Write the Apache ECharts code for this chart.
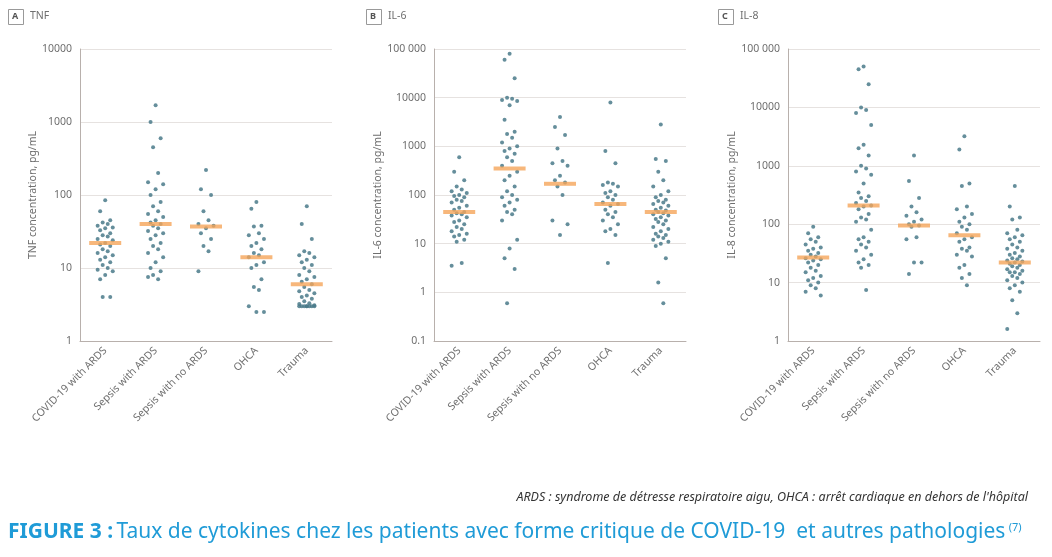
<!DOCTYPE html>
<html><head><meta charset="utf-8">
<script src="https://cdn.jsdelivr.net/npm/echarts@6/dist/echarts.min.js"></script>
<style>html,body{margin:0;padding:0;background:#fff;}#c{width:1052px;height:557px;}</style>
</head><body><div id="c"></div>
<script>
const categories = ['COVID-19 with ARDS','Sepsis with ARDS','Sepsis with no ARDS','OHCA','Trauma'];
const tnfValues = [
 [85,60,45,42,40,38,36,35,33,30,28,27,25,24,22,21,20,18,17,16,15,14,13,12,11,10,9.5,9,8,7,4,4],
 [1700,1000,600,450,200,150,140,120,100,80,70,60,55,50,45,42,40,38,35,32,30,28,25,22,20,18,16,14,12,10,9,8,7,7.5],
 [220,120,100,60,45,40,38,35,30,25,20,17,9],
 [80,65,38,37,30,28,25,22,20,18,16,15,14,12,11,10,7,5.5,5,3,2.5,2.5],
 [70,40,25,17,16,15,14,13,12,11,10,9,8,7.5,7,6.5,6,5.5,5,4.8,4.5,4.2,4,3.8,3.5,3.3,3.2,3.1,3,3,3,3,3,3,3,3]
];
const tnfMedians = [22,40,37,14,6];
const il6Values = [
 [600,300,200,150,130,120,110,100,95,90,80,75,70,60,55,50,45,42,40,38,35,30,28,25,22,20,18,16,15,14,12,11,4,3.5],
 [80000,60000,25000,10000,9500,9000,8500,7000,3500,2000,1800,1500,1200,1000,900,800,700,600,500,400,300,250,200,150,120,100,90,80,70,60,50,45,40,30,12,8,5,3,0.6],
 [4000,2500,1700,900,500,450,400,250,200,180,150,100,30,25,15],
 [8000,800,450,180,170,160,150,120,110,100,90,80,70,65,60,50,45,40,35,30,25,20,18,15,4],
 [2800,550,500,300,200,150,120,100,90,80,75,70,65,60,55,50,48,45,42,40,38,35,32,30,28,25,22,20,18,16,15,14,13,12,11,10,9,5,1.6,0.6]
];
const il6Medians = [45,350,170,65,45];
const il8Values = [
 [90,70,60,55,50,45,40,38,35,32,30,28,26,25,24,22,20,18,16,15,13,12,11,10,9,8,7,6],
 [50000,45000,25000,10000,9000,8000,5000,2300,2000,1500,1000,900,800,700,500,350,300,280,250,230,210,200,180,150,130,120,110,80,60,55,50,45,40,35,30,25,22,20,18,7.5],
 [1500,550,280,200,160,140,120,110,100,95,90,60,55,22,22,14],
 [3200,1900,500,450,200,180,150,130,110,100,90,80,70,60,55,50,40,38,35,30,28,20,18,14,12,9],
 [450,200,130,120,80,70,65,60,55,50,45,40,38,35,32,30,28,26,25,24,23,22,21,20,19,18,17,16,15,15,14,13,12,11,10,9,8,7,5,3,1.6]
];
const il8Medians = [27,210,95,65,22];
const jitterPattern = [0,-2,2,-1,1,-3,3];
const panels = [
 {letter:'A', name:'TNF', yName:'TNF concentration, pg/mL', values:tnfValues, medians:tnfMedians, min:1, max:10000, left:80, x:8},
 {letter:'B', name:'IL-6', yName:'IL-6 concentration, pg/mL', values:il6Values, medians:il6Medians, min:0.1, max:100000, left:434, x:366},
 {letter:'C', name:'IL-8', yName:'IL-8 concentration, pg/mL', values:il8Values, medians:il8Medians, min:1, max:100000, left:788, x:718}
];
const grid=[],xAxis=[],yAxis=[],series=[],graphic=[];
const fmt=v=>{let s=String(v);return v>=100000? s.slice(0,3)+' '+s.slice(3):s;};
const txt={fontSize:10.5,color:'#6f6f6f',fontFamily:'Noto Sans'};
panels.forEach((p,i)=>{
  grid.push({left:p.left,top:49,width:252,height:292});
  xAxis.push({type:'category',gridIndex:i,data:categories,boundaryGap:true,
    axisLine:{lineStyle:{color:'#b8b0ac'}},axisTick:{show:false},
    axisLabel:Object.assign({rotate:45,interval:0,margin:8},txt)});
  xAxis.push({type:'value',gridIndex:i,min:-0.5,max:4.5,show:false});
  yAxis.push({type:'log',gridIndex:i,logBase:10,min:p.min,max:p.max,name:p.yName,nameLocation:'middle',nameGap:40,
    nameTextStyle:txt,
    axisLine:{show:true,onZero:false,lineStyle:{color:'#b8b0ac'}},axisTick:{show:false},
    axisLabel:Object.assign({formatter:fmt},txt),
    splitLine:{lineStyle:{color:'#e6e2e0'}}});
  const pts=[];
  p.values.forEach((arr,c)=>arr.forEach((v,k)=>pts.push([c+jitterPattern[k%7]*0.05,v])));
  series.push({type:'scatter',xAxisIndex:2*i+1,yAxisIndex:i,data:pts,symbolSize:4,
    itemStyle:{color:'#4a7a8a',opacity:0.85},z:2});
  series.push({type:'scatter',xAxisIndex:2*i,yAxisIndex:i,data:p.medians,symbol:'rect',symbolSize:[32,4],
    itemStyle:{color:'#f5a55a'},z:3});
  graphic.push({type:'rect',left:p.x,top:9,shape:{width:15,height:15},style:{fill:'#fff',stroke:'#999',lineWidth:1}});
  graphic.push({type:'text',left:p.x+4,top:12,style:{text:p.letter,font:'bold 9px Noto Sans',fill:'#555'}});
  graphic.push({type:'text',left:p.x+22,top:11,style:{text:p.name,font:'10.5px Noto Sans',fill:'#6f6f6f'}});
});
graphic.push({type:'text',right:24,top:491,style:{text:"ARDS : syndrome de détresse respiratoire aigu, OHCA : arrêt cardiaque en dehors de l'hôpital",font:'italic 12.5px Noto Sans',fill:'#333'}});
graphic.push({type:'text',left:8,top:522,style:{rich:{b:{font:'bold 21px Noto Sans',fill:'#1f9bd7'},n:{font:'21px Noto Sans',fill:'#1f9bd7'},s:{font:'11px Noto Sans',fill:'#1f9bd7',verticalAlign:'top'}},
  text:'{b|FIGURE 3 :} {n|Taux de cytokines chez les patients avec forme critique de COVID-19  et autres pathologies} {s|(7)}'}});
const chart=echarts.init(document.getElementById('c'));
chart.setOption({animation:false,grid,xAxis,yAxis,series,graphic});
</script></body></html>
